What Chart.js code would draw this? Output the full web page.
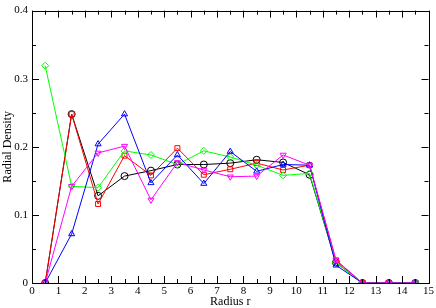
<!DOCTYPE html>
<html><head><meta charset="utf-8">
<script src="https://cdn.jsdelivr.net/npm/chart.js@4"></script>
<style>html,body{margin:0;padding:0;background:#fff}#wrap{width:436px;height:308px}</style>
</head><body><div id="wrap"><canvas id="c" width="436" height="308"></canvas></div>
<script>
const radius = [0.5,1.5,2.5,3.5,4.5,5.5,6.5,7.5,8.5,9.5,10.5,11.5,12.5,13.5,14.5];
const blackSeries   = [0,0.248,0.128,0.157,0.165,0.174,0.174,0.176,0.181,0.177,0.159,0.030,0,0,0];
const redSeries     = [0,0.248,0.116,0.187,0.158,0.198,0.159,0.167,0.176,0.166,0.173,0.033,0,0,0];
const greenSeries   = [0.319,0.142,0.140,0.194,0.188,0.174,0.194,0.185,0.173,0.158,0.161,0.030,0,0,0];
const blueSeries    = [0,0.072,0.204,0.248,0.147,0.188,0.146,0.193,0.164,0.174,0.173,0.026,0,0,0];
const magentaSeries = [0,0.142,0.191,0.201,0.122,0.177,0.166,0.156,0.157,0.188,0.173,0.034,0,0,0];
const xTicks = [0,1,2,3,4,5,6,7,8,9,10,11,12,13,14,15];
const yTicks = [0,0.1,0.2,0.3,0.4];

function pts(arr){ return radius.map((x,i)=>({x:x,y:arr[i]})); }
function ds(label,arr,color,style,order,rot){
  return {label:label,data:pts(arr),borderColor:color,backgroundColor:'rgba(0,0,0,0)',
    pointBorderColor:color,pointBackgroundColor:'rgba(0,0,0,0)',pointStyle:style,
    pointRotation:rot||0,pointRadius:3.5,pointBorderWidth:1,borderWidth:1,tension:0,order:order};
}
const tickPlugin = {
  id:'frameTicks',
  afterDraw(chart){
    const ctx=chart.ctx, a=chart.chartArea, xs=chart.scales.x, ys=chart.scales.y;
    ctx.save();
    ctx.strokeStyle='#000'; ctx.lineWidth=1;
    ctx.strokeRect(Math.round(a.left)+0.5,Math.round(a.top)+0.5,Math.round(a.right-a.left),Math.round(a.bottom-a.top));
    ctx.beginPath();
    for(let v=0; v<=15.001; v+=0.5){
      const p=Math.round(xs.getPixelForValue(v))+0.5;
      const L=(Math.abs(v-Math.round(v))<1e-6)?7:4;
      ctx.moveTo(p,a.bottom); ctx.lineTo(p,a.bottom-L);
      ctx.moveTo(p,a.top); ctx.lineTo(p,a.top+L);
    }
    for(let v=0; v<=0.4001; v+=0.05){
      const p=Math.round(ys.getPixelForValue(v))+0.5;
      const L=(Math.abs(v*10-Math.round(v*10))<1e-6)?7:4;
      ctx.moveTo(a.left,p); ctx.lineTo(a.left+L,p);
      ctx.moveTo(a.right,p); ctx.lineTo(a.right-L,p);
    }
    ctx.stroke();
    ctx.restore();
  }
};
new Chart(document.getElementById('c'),{
  type:'line',
  data:{datasets:[
    ds('black',blackSeries,'#000000','circle',4),
    ds('red',redSeries,'#ff0000','rect',3),
    ds('green',greenSeries,'#00ff00','rectRot',2),
    ds('blue',blueSeries,'#0000ff','triangle',1),
    ds('magenta',magentaSeries,'#ff00ff','triangle',0,180)
  ]},
  options:{
    responsive:false,animation:false,
    layout:{padding:{top:5,right:5,left:0,bottom:0}},
    plugins:{legend:{display:false},tooltip:{enabled:false}},
    scales:{
      x:{type:'linear',min:0,max:15,
        afterBuildTicks(s){s.ticks=xTicks.map(v=>({value:v}));},
        afterFit(s){s.height=25;},
        grid:{display:false,drawTicks:false,tickLength:0},border:{display:false},
        ticks:{color:'#000',padding:2,maxRotation:0,autoSkip:false,font:{family:'Liberation Serif',size:11}},
        title:{display:true,text:'Radius r',color:'#000',padding:{top:0,bottom:-1},font:{family:'Liberation Serif',size:12}}},
      y:{type:'linear',min:0,max:0.4,
        afterBuildTicks(s){s.ticks=yTicks.map(v=>({value:v}));},
        afterFit(s){s.width=32;},
        grid:{display:false,drawTicks:false,tickLength:0},border:{display:false},
        ticks:{color:'#000',padding:4,autoSkip:false,font:{family:'Liberation Serif',size:11},
          callback:v=>(v===0?'0':String(Math.round(v*10)/10))},
        title:{display:true,text:'Radial Density',color:'#000',padding:{top:1,bottom:0},font:{family:'Liberation Serif',size:12}}}
    }
  },
  plugins:[tickPlugin]
});
</script></body></html>
